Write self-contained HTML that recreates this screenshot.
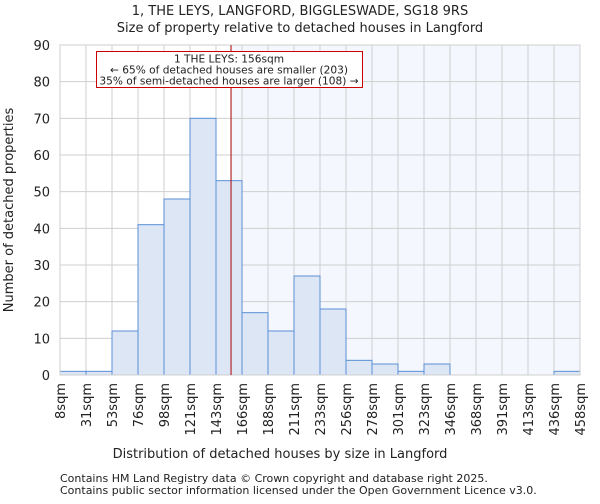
<!DOCTYPE html>
<html><head><meta charset="utf-8"><style>
body{margin:0;background:#fff;font-family:"DejaVu Sans","Liberation Sans",sans-serif;}
svg text{font-family:"DejaVu Sans","Liberation Sans",sans-serif;fill:#222;}
</style></head><body>
<svg id="chart" width="600" height="500" xmlns="http://www.w3.org/2000/svg">
<text x="300" y="15" text-anchor="middle" font-size="13">1, THE LEYS, LANGFORD, BIGGLESWADE, SG18 9RS</text>
<text x="300" y="32" text-anchor="middle" font-size="13">Size of property relative to detached houses in Langford</text>
<g id="plot"></g>
<text x="280" y="458" text-anchor="middle" font-size="13">Distribution of detached houses by size in Langford</text>
<text transform="translate(13,210) rotate(-90)" text-anchor="middle" font-size="13">Number of detached properties</text>
<text x="60" y="482" font-size="11" fill="#444">Contains HM Land Registry data © Crown copyright and database right 2025.</text>
<text x="60" y="494" font-size="11" fill="#444">Contains public sector information licensed under the Open Government Licence v3.0.</text>
</svg>
<script>
const tickLabels=["8sqm","31sqm","53sqm","76sqm","98sqm","121sqm","143sqm","166sqm","188sqm","211sqm","233sqm","256sqm","278sqm","301sqm","323sqm","346sqm","368sqm","391sqm","413sqm","436sqm","458sqm"];
const counts=[1,1,12,41,48,70,53,17,12,27,18,4,3,1,3,0,0,0,0,1];
const yTicks=[0,10,20,30,40,50,60,70,80,90];
const binStart=8, binEnd=458, markerValue=156;
const X0=60,X1=580,Y0=375,Y1=45,YMAX=90;
const xs=v=>X0+(v-binStart)/(binEnd-binStart)*(X1-X0);
const ys=v=>Y0-v/YMAX*(Y0-Y1);
const NS="http://www.w3.org/2000/svg";
const g=document.getElementById('plot');
function mk(t,a){const e=document.createElementNS(NS,t);for(const k in a)e.setAttribute(k,a[k]);g.appendChild(e);return e;}
const mx=xs(markerValue);
let e=mk('rect',{x:mx,y:Y1,width:X1-mx,height:Y0-Y1,fill:'#f4f7fd'});


const step=(binEnd-binStart)/counts.length;
yTicks.forEach(t=>{
 const l=mk('line',{x1:X0,x2:X1,y1:ys(t),y2:ys(t),stroke:'#cfcfcf'});
 
 
 const tx=mk('text',{x:X0-10,y:ys(t)+5,'text-anchor':'end','font-size':13});
 tx.textContent=t;
 
 
});
tickLabels.forEach((s,i)=>{
 const x=xs(binStart+i*step);
 const l=mk('line',{x1:x,x2:x,y1:Y1,y2:Y0,stroke:'#cfcfcf'});
 
 
 const tx=mk('text',{transform:`translate(${x+5},${Y0+8}) rotate(-90)`,'text-anchor':'end','font-size':13});
 tx.textContent=s;
 
 
});
counts.forEach((c,i)=>{
 if(c<=0)return;
 const xa=xs(binStart+i*step),xb=xs(binStart+(i+1)*step);
 const r=mk('rect',{x:xa,y:ys(c),width:xb-xa,height:Y0-ys(c),fill:'#dce6f5',stroke:'#5b8fd6','stroke-width':1});
 
 
});
e=mk('rect',{x:X0,y:Y1,width:X1-X0,height:Y0-Y1,fill:'none',stroke:'#cfcfcf'});


e=mk('line',{x1:mx,x2:mx,y1:Y1,y2:Y0,stroke:'#aa0000','stroke-width':1});


e=mk('rect',{x:96.5,y:51.5,width:266,height:36,fill:'#fff',stroke:'#c00'});


["1 THE LEYS: 156sqm","← 65% of detached houses are smaller (203)","35% of semi-detached houses are larger (108) →"].forEach((s,i)=>{
 const t=mk('text',{x:229,y:62.5+i*11,'text-anchor':'middle','font-size':10.6});
 t.textContent=s;
 
 
});
</script>
</body></html>
